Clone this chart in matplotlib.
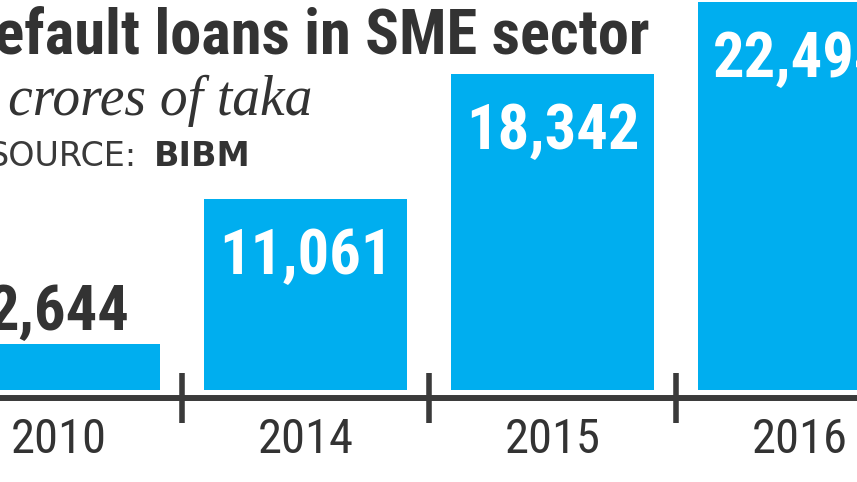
import matplotlib.pyplot as plt
from matplotlib import font_manager

years = ['2010', '2014', '2015', '2016']
loans = [2644, 11061, 18342, 22494]            # crore taka
value_labels = ['2,644', '11,061', '18,342', '22,494']

title = 'Default loans in SME sector'
subtitle = 'In crores of taka'
source_lbl = 'SOURCE:'
source_name = 'BIBM'

bar_color = '#00aeef'
dark = '#333333'
axis_color = '#3a3a3a'

# pick a condensed face if there is one
names = {f.name for f in font_manager.fontManager.ttflist}
cond = next((n for n in ['Roboto Condensed', 'Liberation Sans Narrow', 'Open Sans Condensed']
             if n in names), 'DejaVu Sans')

W, H = 857, 482
fig = plt.figure(figsize=(W / 100, H / 100), dpi=100)
ax = fig.add_axes([0, 0, 1, 1])

x = list(range(len(years)))
ax.bar(x, loans, width=0.82, color=bar_color, zorder=2)
ax.set_xlim(-0.237, 3.233)
ax.set_ylim(-5340, 22620)

# value labels: the small one sits above the bar, others inside in white
for i, (v, lab) in enumerate(zip(loans, value_labels)):
    if i == 0:
        ax.annotate(lab, (i, v), xytext=(0, 10), textcoords='offset points',
                    ha='center', va='baseline', fontsize=45, fontweight='bold',
                    family=cond, color=dark)
    else:
        ax.annotate(lab, (i, v), xytext=(0, -54), textcoords='offset points',
                    ha='center', va='baseline', fontsize=45, fontweight='bold',
                    family=cond, color='white', zorder=3)

# axis line + separators between the years
for s in ['left', 'right', 'top']:
    ax.spines[s].set_visible(False)
ax.spines['bottom'].set_position(('data', -464))
ax.spines['bottom'].set_linewidth(4.3)
ax.spines['bottom'].set_color(axis_color)
ax.yaxis.set_visible(False)

ax.set_xticks(x, years)
ax.set_xticks([0.5, 1.5, 2.5], minor=True)
ax.tick_params(which='major', length=0, pad=14, labelsize=35, labelcolor=dark)
ax.tick_params(which='minor', direction='inout', length=36, width=4, color=axis_color)
for t in ax.get_xticklabels():
    t.set_fontfamily(cond)

# header texts (the graphic is cropped on the left)
fig.text(650 / W, 1 - 53 / H, title, ha='right', va='baseline', fontsize=45,
         fontweight='bold', family=cond, color=dark)
fig.text(313 / W, 1 - 115 / H, subtitle, ha='right', va='baseline', fontsize=40,
         style='italic', family='Liberation Serif', color=dark)
fig.text(137 / W, 1 - 166 / H, source_lbl, ha='right', va='baseline', fontsize=24,
         family='DejaVu Sans', color=axis_color)
fig.text(154 / W, 1 - 166 / H, source_name, ha='left', va='baseline', fontsize=24,
         fontweight='bold', family='DejaVu Sans', color=dark)

fig.savefig('out.png', dpi=100)
